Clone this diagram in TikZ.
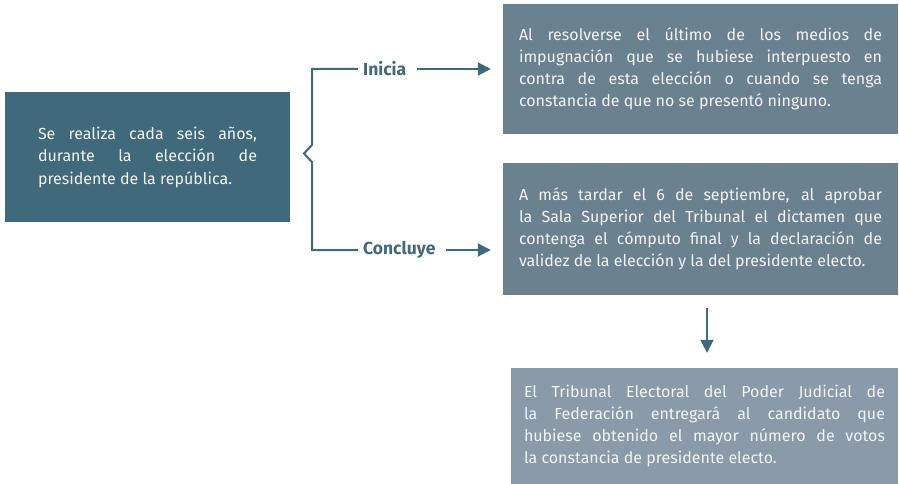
\documentclass[tikz,border=0pt]{standalone}
\usepackage{fontspec}
\setmainfont{Fira Sans}
\usetikzlibrary{arrows.meta,calc}
\definecolor{teal}{HTML}{406A7C}
\definecolor{boxmid}{HTML}{6A8190}
\definecolor{boxlight}{HTML}{8A9AA8}
\definecolor{txt}{HTML}{F2F4F5}
\tikzset{
  box/.style={fill=#1, text=txt, align=justify, font=\fontsize{16}{22}\selectfont, inner sep=0pt, anchor=center},
  lbl/.style={text=teal, font=\fontsize{17.5}{20}\selectfont\bfseries, inner sep=0pt},
  conn/.style={draw=teal, line width=2pt},
  arr/.style={conn, -{Triangle[length=13pt,width=13pt]}}
}
\begin{document}
\begin{tikzpicture}[x=1pt,y=-1pt]
\useasboundingbox (0,0) rectangle (899,484);
\node[box=teal, minimum width=285pt, minimum height=129pt, text width=219pt, font=\fontsize{16}{22.5}\selectfont] (src) at (147.5,157) {Se realiza cada seis años,\linebreak durante la elección de\linebreak presidente de la república.};
\node[box=boxmid, minimum width=395pt, minimum height=130pt, text width=363pt] (b1) at (700.5,69) {Al resolverse el último de los medios de\linebreak impugnación que se hubiese interpuesto en\linebreak contra de esta elección o cuando se tenga\linebreak constancia de que no se presentó ninguno.};
\node[box=boxmid, minimum width=395pt, minimum height=132pt, text width=363pt] (b2) at (700.5,229) {A más tardar el 6 de septiembre, al aprobar\linebreak la Sala Superior del Tribunal el dictamen que\linebreak contenga el cómputo final y la declaración de\linebreak validez de la elección y la del presidente electo.};
\node[box=boxlight, minimum width=387pt, minimum height=116pt, text width=361pt] (b3) at (704.5,426) {El Tribunal Electoral del Poder Judicial de\linebreak la Federación entregará al candidato que\linebreak hubiese obtenido el mayor número de votos\linebreak la constancia de presidente electo.};
\node[lbl, anchor=west] (ini) at (363,69) {Inicia};
\node[lbl, anchor=west] (conc) at (363,250) {Concluye};
\coordinate (tip) at (304,153.5);
\draw[conn] ([xshift=-5pt]ini.west) -| (312,145) -- (tip) -- (312,162) |- ([xshift=-5pt]conc.west);
\draw[arr, shorten <=11pt, shorten >=12pt] (ini.east) -- (ini.east -| b1.west);
\draw[arr, shorten <=10pt, shorten >=12pt] (conc.east) -- (conc.east -| b2.west);
\coordinate (d) at (707,0);
\draw[arr, shorten <=13pt, shorten >=15pt] (b2.south -| d) -- (b3.north -| d);
\end{tikzpicture}
\end{document}
